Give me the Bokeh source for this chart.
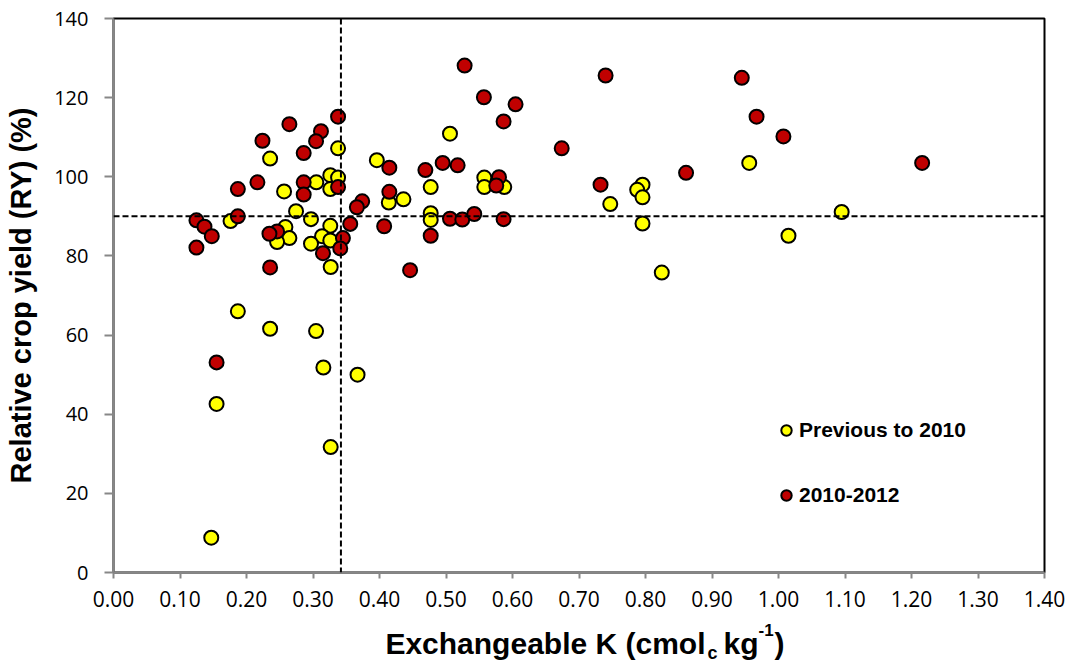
from bokeh.plotting import figure
from bokeh.layouts import column
from bokeh.models import (Span, Legend, LegendItem, FixedTicker,
                          NumeralTickFormatter, Range1d)
from bokeh.core.properties import value
from bokeh.embed import file_html
from bokeh.resources import INLINE

# ---- data ----
prev_k = [0.147, 0.155, 0.187, 0.2355, 0.3046, 0.3156, 0.367, 0.3266,
          0.3377, 0.2355, 0.396, 0.326, 0.3377, 0.305, 0.326, 0.2565,
          0.414, 0.436, 0.2745, 0.297, 0.176, 0.326, 0.2585, 0.2645,
          0.3136, 0.326, 0.246, 0.297, 0.3266, 0.506, 0.477, 0.5576,
          0.5576, 0.5876, 0.747, 0.477, 0.477, 0.956, 0.7955, 0.7875,
          0.7955, 1.095, 0.7955, 1.015, 0.8245]
prev_ry = [8.8, 42.6, 66.0, 61.6, 61.0, 51.8, 50.0, 31.7,
           107.2, 104.6, 104.2, 100.4, 99.8, 98.6, 96.9, 96.3,
           93.5, 94.3, 91.3, 89.3, 88.8, 87.6, 87.3, 84.5,
           85.0, 83.9, 83.5, 83.1, 77.2, 110.9, 97.4, 99.8,
           97.4, 97.4, 93.1, 90.8, 89.1, 103.5, 98.0, 96.7,
           94.8, 91.1, 88.2, 85.1, 75.8]

recent_k = [0.155, 0.3377, 0.2645, 0.312, 0.3046, 0.224, 0.286, 0.4148,
            0.2164, 0.286, 0.3377, 0.187, 0.286, 0.4148, 0.374, 0.366,
            0.187, 0.1247, 0.1368, 0.1478, 0.1247, 0.356, 0.407, 0.246,
            0.2345, 0.345, 0.341, 0.315, 0.2355, 0.446, 0.528, 0.740,
            0.557, 0.6046, 0.5866, 0.674, 0.469, 0.495, 0.5175, 0.5797,
            0.5756, 0.7324, 0.506, 0.5245, 0.5425, 0.5866, 0.477, 0.9448,
            0.967, 1.0074, 1.216, 0.861]
recent_ry = [53.1, 115.2, 113.3, 111.5, 109.0, 109.1, 106.0, 102.3,
             98.6, 98.6, 97.4, 96.9, 95.5, 96.2, 93.8, 92.3,
             90.0, 89.0, 87.4, 85.0, 82.1, 88.1, 87.5, 86.2,
             85.6, 84.5, 81.9, 80.7, 77.1, 76.4, 128.1, 125.6,
             120.1, 118.3, 114.0, 107.2, 101.7, 103.5, 102.9, 99.9,
             97.8, 98.0, 89.4, 89.2, 90.6, 89.3, 85.1, 125.0,
             115.2, 110.2, 103.5, 101.0]

series_labels = ["Previous to 2010", "2010-2012"]
x_ticks = [0.0, 0.1, 0.2, 0.3, 0.4, 0.5, 0.6, 0.7, 0.8, 0.9, 1.0, 1.1, 1.2, 1.3, 1.4]
y_ticks = [0, 20, 40, 60, 80, 100, 120, 140]
k_critical = 0.342
ry_threshold = 90
y_title = "Relative crop yield (RY) (%)"
x_title_parts = ["Exchangeable K (cmol", "c", "kg", "-1", ")"]

# ---- main figure ----
p = figure(frame_width=931, frame_height=554, x_range=Range1d(0, 1.4), y_range=Range1d(0, 140),
           output_backend="svg", toolbar_location=None, title_location=None,
           min_border_left=113, min_border_right=24, min_border_top=18, min_border_bottom=45)
p.align = "start"
p.background_fill_color = "white"
p.border_fill_color = "white"
p.outline_line_color = "black"
p.outline_line_width = 2
p.xgrid.visible = False
p.ygrid.visible = False

axis_gray = "#878787"
for ax in (p.xaxis[0], p.yaxis[0]):
    ax.axis_line_color = axis_gray
    ax.axis_line_width = 2
    ax.major_tick_line_color = axis_gray
    ax.major_tick_line_width = 2
    ax.major_tick_in = 0
    ax.minor_tick_line_color = None
    ax.major_label_text_font = "Open Sans"
    ax.major_label_text_color = "black"

p.xaxis.ticker = FixedTicker(ticks=x_ticks)
p.xaxis.formatter = NumeralTickFormatter(format="0.00")
p.xaxis.major_tick_out = 6
p.xaxis.major_label_standoff = 12
p.xaxis.major_label_text_font_size = "21px"

p.yaxis.ticker = FixedTicker(ticks=y_ticks)
p.yaxis.major_tick_out = 9
p.yaxis.major_label_standoff = 16
p.yaxis.major_label_text_font_size = "20px"
p.yaxis.axis_label = y_title
p.yaxis.axis_label_text_font = "Liberation Sans"
p.yaxis.axis_label_text_font_style = "bold"
p.yaxis.axis_label_text_font_size = "29px"
p.yaxis.axis_label_text_color = "black"
p.yaxis.axis_label_standoff = 14

# threshold lines
p.add_layout(Span(location=ry_threshold, dimension="width", line_color="black",
                  line_width=2, line_dash="6 3"))
p.add_layout(Span(location=k_critical, dimension="height", line_color="black",
                  line_width=2, line_dash="6 3"))

r_prev = p.scatter(prev_k, prev_ry, size=14, fill_color="#FFFF00",
                   line_color="black", line_width=2)
r_recent = p.scatter(recent_k, recent_ry, size=14, fill_color="#C00000",
                     line_color="black", line_width=2)

legend = Legend(items=[LegendItem(label=series_labels[0], renderers=[r_prev]),
                       LegendItem(label=series_labels[1], renderers=[r_recent])],
                location=(660, 61), orientation="vertical",
                glyph_width=26, glyph_height=32, label_height=32,
                label_standoff=0, spacing=33, padding=0, margin=0,
                border_line_color=None, background_fill_alpha=0,
                label_text_font="Liberation Sans", label_text_font_style="bold",
                label_text_font_size="21px", label_text_color="black")
p.add_layout(legend)

# ---- x-axis title strip (pixel coordinates, frame aligned with main frame) ----
t = figure(frame_width=931, frame_height=45, x_range=Range1d(113, 1044), y_range=Range1d(0, 45),
           output_backend="svg", toolbar_location=None, title_location=None,
           x_axis_type=None, y_axis_type=None,
           min_border_left=0, min_border_right=0, min_border_top=0, min_border_bottom=0)
t.align = "start"
t.grid.visible = False
t.outline_line_color = None
t.background_fill_color = "white"
t.border_fill_color = "white"

tf = value("Liberation Sans")
t.text(x=[705], y=[18.6], text=[x_title_parts[0]], text_align="right", text_baseline="alphabetic",
       text_font=tf, text_font_style="bold", text_font_size="30px", text_color="black")
t.text(x=[707], y=[9.6], text=[x_title_parts[1]], text_align="left", text_baseline="alphabetic",
       text_font=tf, text_font_style="bold", text_font_size="18px", text_color="black")
t.text(x=[723], y=[18.6], text=[x_title_parts[2]], text_align="left", text_baseline="alphabetic",
       text_font=tf, text_font_style="bold", text_font_size="30px", text_color="black")
t.text(x=[758], y=[32.1], text=[x_title_parts[3]], text_align="left", text_baseline="alphabetic",
       text_font=tf, text_font_style="bold", text_font_size="17px", text_color="black")
t.text(x=[774], y=[18.6], text=[x_title_parts[4]], text_align="left", text_baseline="alphabetic",
       text_font=tf, text_font_style="bold", text_font_size="30px", text_color="black")

layout = column(p, t, spacing=0)
open("out.html", "w").write(file_html(layout, INLINE))
